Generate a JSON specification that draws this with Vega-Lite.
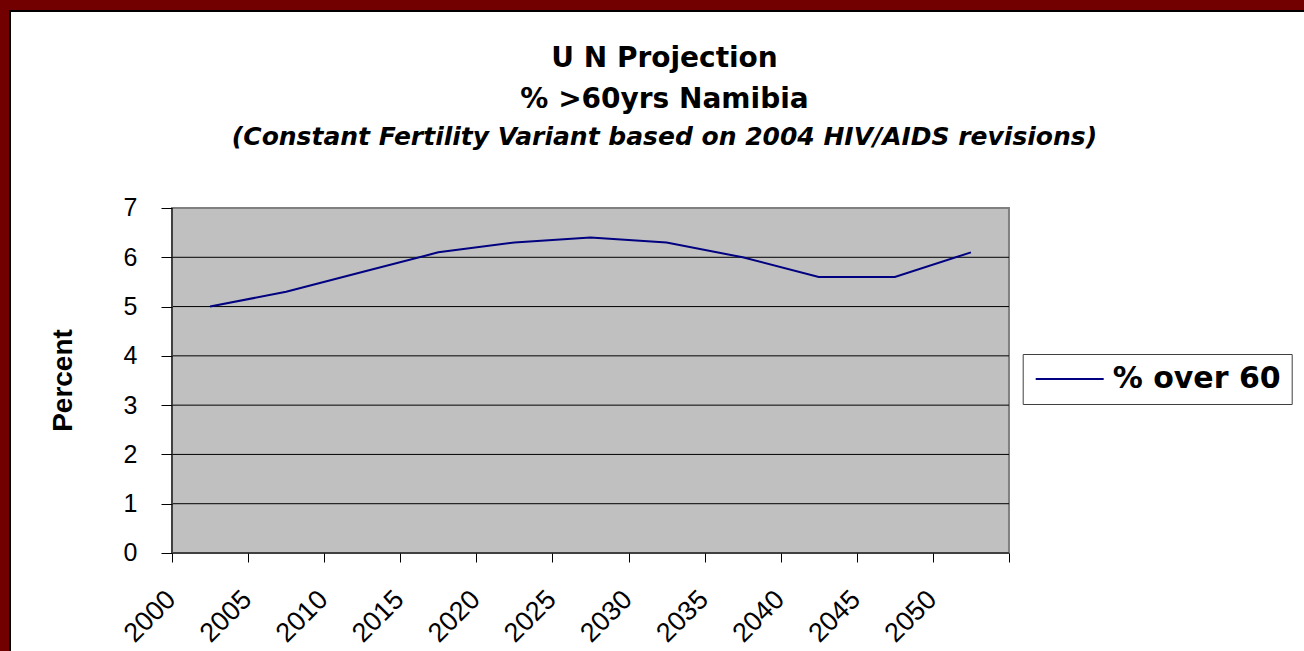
{
  "$schema": "https://vega.github.io/schema/vega-lite/v6.json",
  "width": 1295,
  "height": 641,
  "autosize": {"type": "none"},
  "padding": {"left": 10, "top": 11, "right": -1, "bottom": -1},
  "background": "#720000",
  "config": {
    "font": "Liberation Sans",
    "view": {"fill": "#FFFFFF", "stroke": "#000000", "strokeWidth": 2}
  },
  "title": {
    "text": ["U N Projection", "% >60yrs Namibia"],
    "subtitle": "(Constant Fertility Variant based on 2004 HIV/AIDS revisions)",
    "font": "DejaVu Sans",
    "fontSize": 28,
    "fontWeight": "bold",
    "color": "#000000",
    "lineHeight": 41,
    "subtitleFont": "DejaVu Sans",
    "subtitleFontSize": 25,
    "subtitleFontWeight": "bold",
    "subtitleFontStyle": "italic",
    "subtitleColor": "#000000",
    "subtitlePadding": 11,
    "anchor": "middle",
    "frame": "group",
    "offset": -139,
    "dx": 7
  },
  "datasets": {
    "series": [
      {"period": "2000-2005", "year": 2002.5, "pct": 5.0, "series": "% over 60"},
      {"period": "2005-2010", "year": 2007.5, "pct": 5.3, "series": "% over 60"},
      {"period": "2010-2015", "year": 2012.5, "pct": 5.7, "series": "% over 60"},
      {"period": "2015-2020", "year": 2017.5, "pct": 6.1, "series": "% over 60"},
      {"period": "2020-2025", "year": 2022.5, "pct": 6.3, "series": "% over 60"},
      {"period": "2025-2030", "year": 2027.5, "pct": 6.4, "series": "% over 60"},
      {"period": "2030-2035", "year": 2032.5, "pct": 6.3, "series": "% over 60"},
      {"period": "2035-2040", "year": 2037.5, "pct": 6.0, "series": "% over 60"},
      {"period": "2040-2045", "year": 2042.5, "pct": 5.6, "series": "% over 60"},
      {"period": "2045-2050", "year": 2047.5, "pct": 5.6, "series": "% over 60"},
      {"period": "2050-2055", "year": 2052.5, "pct": 6.1, "series": "% over 60"}
    ],
    "grid": [
      {"level": 1}, {"level": 2}, {"level": 3}, {"level": 4}, {"level": 5}, {"level": 6}
    ],
    "frame": [{"part": "plot"}]
  },
  "layer": [
    {
      "data": {"name": "series"},
      "mark": {"type": "line", "strokeWidth": 0, "opacity": 0},
      "encoding": {
        "x": {
          "field": "year",
          "type": "quantitative",
          "scale": {"domain": [1989.355, 2074.453], "nice": false, "zero": false},
          "axis": {
            "values": [2000, 2005, 2010, 2015, 2020, 2025, 2030, 2035, 2040, 2045, 2050, 2055],
            "format": "d",
            "labelExpr": "datum.value > 2050 ? '' : datum.label",
            "offset": -99,
            "domain": false,
            "grid": false,
            "ticks": true,
            "tickSize": 9,
            "tickColor": "#000000",
            "tickWidth": 1,
            "labelAngle": -45,
            "labelAlign": "right",
            "labelBaseline": "middle",
            "labelPadding": 33,
            "labelOffset": -1,
            "labelFont": "Liberation Sans",
            "labelFontSize": 27,
            "labelColor": "#000000",
            "labelOverlap": false,
            "labelFlush": false,
            "labelBound": false,
            "title": null,
            "zindex": 1
          }
        },
        "y": {
          "field": "pct",
          "type": "quantitative",
          "scale": {"domain": [-2.0087, 10.997], "nice": false, "zero": false},
          "axis": {
            "values": [0, 1, 2, 3, 4, 5, 6, 7],
            "offset": -162,
            "domain": false,
            "grid": false,
            "tickSize": 11,
            "tickColor": "#000000",
            "tickWidth": 1,
            "labelPadding": 24,
            "labelFont": "Liberation Sans",
            "labelFontSize": 25,
            "labelColor": "#000000",
            "labelOverlap": false,
            "labelFlush": false,
            "title": "Percent",
            "titleFont": "Liberation Sans",
            "titleFontSize": 28,
            "titleFontWeight": "bold",
            "titleColor": "#000000",
            "titleAngle": -90,
            "titleAlign": "center",
            "titleBaseline": "middle",
            "titleX": -109,
            "titleY": 369,
            "zindex": 1
          }
        }
      }
    },
    {
      "data": {"name": "frame"},
      "mark": {"type": "rect", "fill": "#C0C0C0", "stroke": "#808080", "strokeWidth": 2},
      "encoding": {
        "x": {"datum": 2000, "type": "quantitative"},
        "x2": {"datum": 2055},
        "y": {"datum": 0, "type": "quantitative"},
        "y2": {"datum": 7}
      }
    },
    {
      "data": {"name": "grid"},
      "mark": {"type": "rule", "color": "#000000", "strokeWidth": 1},
      "encoding": {
        "y": {"field": "level", "type": "quantitative"},
        "x": {"datum": 2000, "type": "quantitative"},
        "x2": {"datum": 2055}
      }
    },
    {
      "data": {"name": "frame"},
      "mark": {"type": "rule", "color": "#404040", "strokeWidth": 2},
      "encoding": {
        "x": {"datum": 2000, "type": "quantitative"},
        "y": {"datum": 0, "type": "quantitative"},
        "y2": {"datum": 7}
      }
    },
    {
      "data": {"name": "frame"},
      "mark": {"type": "rule", "color": "#404040", "strokeWidth": 2},
      "encoding": {
        "y": {"datum": 0, "type": "quantitative"},
        "x": {"datum": 2000, "type": "quantitative"},
        "x2": {"datum": 2055}
      }
    },
    {
      "data": {"name": "series"},
      "mark": {"type": "line", "strokeWidth": 2},
      "encoding": {
        "x": {"field": "year", "type": "quantitative"},
        "y": {"field": "pct", "type": "quantitative"},
        "color": {
          "field": "series",
          "type": "nominal",
          "scale": {"range": ["#000080"]},
          "legend": {
            "orient": "none",
            "legendX": 1012.7,
            "legendY": 343,
            "title": null,
            "strokeColor": "#404040",
            "fillColor": "#FFFFFF",
            "padding": 10,
            "symbolType": "M-3.4,0H3.4",
            "symbolSize": 400,
            "symbolStrokeWidth": 2,
            "symbolOffset": 22,
            "labelOffset": 28,
            "labelLimit": 400,
            "labelFont": "DejaVu Sans",
            "labelFontSize": 30,
            "labelFontWeight": "bold",
            "labelColor": "#000000"
          }
        }
      }
    }
  ]
}
